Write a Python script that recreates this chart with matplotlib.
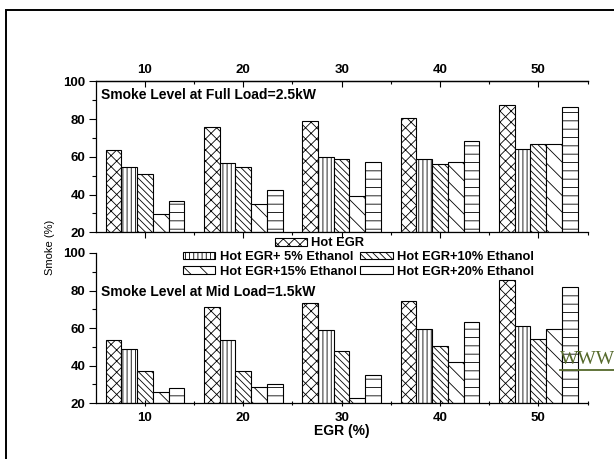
import matplotlib
matplotlib.use("Agg")
import matplotlib.pyplot as plt
import numpy as np
from matplotlib.patches import Patch, Rectangle
from matplotlib.lines import Line2D
from matplotlib.ticker import FixedLocator, MultipleLocator

plt.rcParams["font.family"] = ["Liberation Sans", "DejaVu Sans"]
plt.rcParams["hatch.linewidth"] = 0.6

egr = [10, 20, 30, 40, 50]
series = [
    "Hot EGR",
    "Hot EGR+ 5% Ethanol",
    "Hot EGR+10% Ethanol",
    "Hot EGR+15% Ethanol",
    "Hot EGR+20% Ethanol",
]
hatches = ["xxx", "||||", "\\\\\\\\\\", "\\\\", "--"]

# smoke (%) per series, one value per EGR level
full_load = [
    [63.5, 75.7, 79.0, 80.5, 87.2],
    [54.8, 56.6, 60.1, 58.7, 64.0],
    [50.8, 54.8, 59.0, 56.1, 66.7],
    [29.7, 35.0, 39.1, 57.5, 66.7],
    [36.8, 42.6, 57.1, 68.3, 86.6],
]
mid_load = [
    [53.5, 71.1, 73.2, 74.5, 85.5],
    [48.7, 53.5, 59.0, 59.6, 61.1],
    [37.4, 37.0, 48.0, 50.5, 54.2],
    [25.9, 28.5, 22.8, 41.8, 59.7],
    [28.0, 30.1, 35.1, 63.3, 81.7],
]

W, H = 614, 459
TICK_FS = 9.5
fig = plt.figure(figsize=(W / 100, H / 100), dpi=100)

ax_top = fig.add_axes([0.1559, 0.4939, 0.801, 0.329])
ax_bot = fig.add_axes([0.1559, 0.1214, 0.801, 0.3275])

bar_w = 1.6
x = np.array(egr, dtype=float)


def set_x_ticks(axis):
    axis.set_major_locator(FixedLocator(egr))
    axis.set_minor_locator(FixedLocator([v + 5 for v in egr]))


def draw_bars(ax, data):
    for i, vals in enumerate(data):
        ax.bar(x + (i - 2) * bar_w, np.array(vals) - 20, bar_w, bottom=20,
               facecolor="white", edgecolor="black", linewidth=0.8,
               hatch=hatches[i])
    ax.set_xlim(5, 55)
    ax.set_ylim(20, 100)
    set_x_ticks(ax.xaxis)
    ax.yaxis.set_major_locator(MultipleLocator(20))
    ax.yaxis.set_minor_locator(MultipleLocator(10))
    ax.spines["right"].set_visible(False)
    for s in ("left", "top", "bottom"):
        ax.spines[s].set_linewidth(0.9)
    ax.tick_params(axis="y", which="major", direction="out", length=5,
                   width=0.8, labelsize=TICK_FS, pad=2.5)
    ax.tick_params(axis="y", which="minor", direction="out", length=3,
                   width=0.8)
    for lbl in ax.get_yticklabels():
        lbl.set_fontweight("bold")


draw_bars(ax_top, full_load)
draw_bars(ax_bot, mid_load)

# upper panel: plain outward ticks below, labelled inward ticks on top
ax_top.tick_params(axis="x", which="both", bottom=True, top=False,
                   labelbottom=False, direction="out", width=0.8)
ax_top.tick_params(axis="x", which="major", length=4)
ax_top.tick_params(axis="x", which="minor", length=2.5)

top_x = ax_top.secondary_xaxis("top")
set_x_ticks(top_x.xaxis)
top_x.spines["top"].set_linewidth(0.9)
top_x.tick_params(axis="x", which="both", direction="in", width=0.8,
                  labelsize=TICK_FS, pad=3.5)
top_x.tick_params(axis="x", which="major", length=4)
top_x.tick_params(axis="x", which="minor", length=2.5)
for lbl in top_x.get_xticklabels():
    lbl.set_fontweight("bold")

# lower panel is open at the top
ax_bot.spines["top"].set_visible(False)
ax_bot.tick_params(axis="x", which="both", top=False, bottom=True,
                   direction="inout", width=0.8, labelsize=TICK_FS, pad=4)
ax_bot.tick_params(axis="x", which="major", length=5)
ax_bot.tick_params(axis="x", which="minor", length=3.5)
for lbl in ax_bot.get_xticklabels():
    lbl.set_fontweight("bold")

ax_bot.set_xlabel("EGR (%)", fontsize=10, fontweight="bold", labelpad=0)

ax_top.text(0.01, 0.909, "Smoke Level at Full Load=2.5kW", transform=ax_top.transAxes,
            fontsize=10, fontweight="bold", va="center", ha="left")
ax_bot.text(0.01, 0.742, "Smoke Level at Mid Load=1.5kW", transform=ax_bot.transAxes,
            fontsize=10, fontweight="bold", va="center", ha="left")

fig.text(50 / W, 1 - 247 / H, "Smoke (%)", rotation=90, fontsize=8,
         ha="center", va="center")

handles = [Patch(facecolor="white", edgecolor="black", linewidth=0.8, hatch=h)
           for h in hatches]
handles[4] = Patch(facecolor="white", edgecolor="black", linewidth=0.8)

leg_kw = dict(frameon=False, handlelength=2.5, handleheight=0.5,
              handletextpad=0.35, borderpad=0, borderaxespad=0,
              labelspacing=0.2, columnspacing=0.3,
              prop={"weight": "bold", "size": 9.3})
leg1 = fig.legend([handles[0]], [series[0]], loc="center",
                  bbox_to_anchor=(319.5 / W, 1 - 243.5 / H), **leg_kw)
order = [1, 3, 2, 4]
leg2 = fig.legend([handles[i] for i in order], [series[i] for i in order],
                  ncol=2, loc="center",
                  bbox_to_anchor=(358.5 / W, 1 - 264.3 / H), **leg_kw)

# outer frame, cut off on the right and bottom
fig.add_artist(Rectangle((6 / W, -0.1), 1.2, 1 - 10 / H + 0.1,
                         transform=fig.transFigure, fill=False,
                         edgecolor="black", linewidth=1.4))

# web address running off the right edge
fig.text(560 / W, 1 - 360 / H, "WWW", fontsize=14, color="#55692b",
         family=["Liberation Serif", "DejaVu Serif"],
         ha="left", va="center")
fig.add_artist(Line2D([560 / W, 1.0], [1 - 369.5 / H, 1 - 369.5 / H],
                      transform=fig.transFigure, color="#55692b",
                      linewidth=1.3))

fig.savefig("out.png", dpi=100)
